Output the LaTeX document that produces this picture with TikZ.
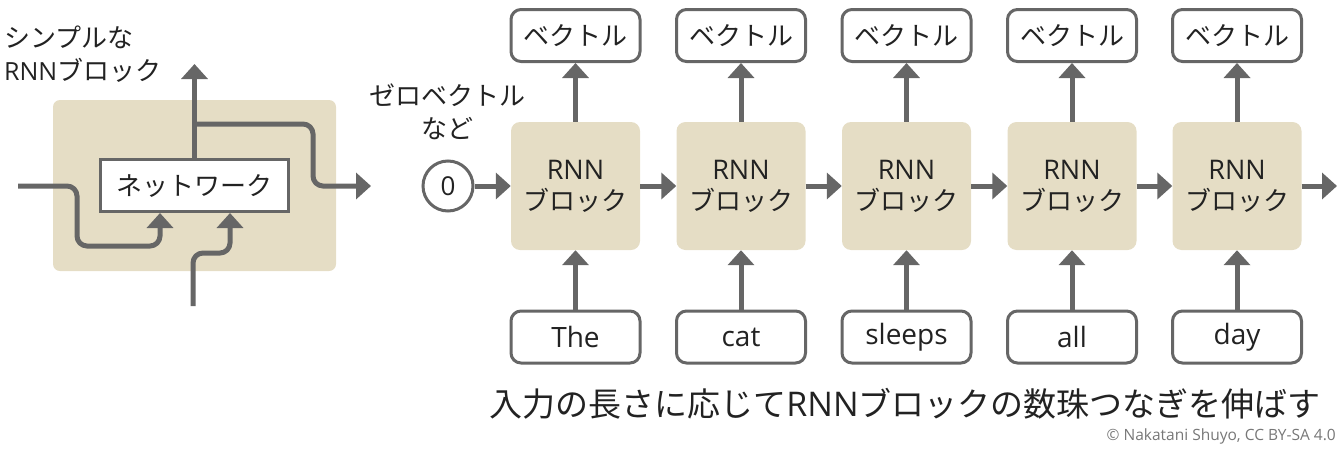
\documentclass[tikz,border=0pt]{standalone}
\usepackage{fontspec}
\setmainfont{Noto Sans CJK JP}
\newfontfamily\lat{Open Sans}
\usetikzlibrary{arrows.meta}
\definecolor{ln}{HTML}{666666}
\definecolor{bg}{HTML}{E5DDC5}
\definecolor{tx}{HTML}{222222}
\definecolor{cp}{HTML}{777777}
\newcommand{\lt}[2]{{\lat\fontsize{#1}{#1}\selectfont #2}}
\tikzset{
  conn/.style={draw=ln, line width=5pt, -{Triangle[width=26pt,length=15pt]}},
  wbox/.style={draw=ln, line width=3pt, fill=white, rounded corners=10pt, minimum width=129pt, minimum height=52pt, inner sep=0pt, font=\fontsize{26}{31}\selectfont, text=tx},
  rnn/.style={fill=bg, rounded corners=9pt, minimum width=129pt, minimum height=128pt, inner sep=0pt, align=center, font=\fontsize{26}{31}\selectfont, text=tx},
  lbl/.style={text=tx, inner sep=0pt, font=\fontsize{26}{33}\selectfont}
}
\begin{document}
\begin{tikzpicture}[x=1pt,y=-1pt]
\useasboundingbox (0,0) rectangle (1343,450);
% ---------- left: simple RNN block ----------
\node[fill=bg, rounded corners=7pt, minimum width=283pt, minimum height=171pt, inner sep=0pt] (simple) at (194.5,185.5) {};
\node[draw=ln, line width=3pt, fill=white, minimum width=188pt, minimum height=52pt, inner sep=0pt, font=\fontsize{26}{31}\selectfont, text=tx] (net) at (194.5,185.5) {ネットワーク};
\node[lbl, align=left, anchor=west] (lab) at (4,54) {シンプルな\\\lt{25}{RNN}ブロック};
\coordinate (in1) at (18,186);
\coordinate (in2) at (193,306);
\coordinate (out1) at (194.5,64);
\coordinate (br) at (194.5,124);
\coordinate (out2) at (371,186);
\draw[conn, rounded corners=10pt] (in1) -- (77,186) -- (77,246) -- (160,246) -- (160,246 |- net.south);
\draw[conn, rounded corners=10pt] (in2) -- (193,253) -- (230,253) -- (230,253 |- net.south);
\draw[conn] (net.north) -- (out1);
\draw[conn, rounded corners=10pt] (br) -- (313,124) -- (313,186) -- (out2);
% ---------- right: unrolled chain ----------
\node[lbl, align=center] (zl) at (447,112) {ゼロベクトル\\など};
\node[draw=ln, line width=3pt, circle, minimum size=50pt, inner sep=0pt, fill=white, text=tx] (zero) at (448,186) {\lt{26}{0}};
\foreach \i/\x/\w in {1/575.5/The, 2/741/cat, 3/906.5/sleeps, 4/1072/all, 5/1237/day} {
  \node[rnn] (b\i) at (\x,186) {\lt{27}{RNN}\\ブロック};
  \node[wbox] (v\i) at (\x,35.5) {ベクトル};
  \node[wbox] (w\i) at (\x,337) {\lt{28}{\w}};
  \draw[conn] (b\i) -- (v\i);
  \draw[conn] (w\i) -- (b\i);
}
\coordinate (end) at (1337,186);
\draw[conn] (zero) -- (b1);
\draw[conn] (b1) -- (b2);
\draw[conn] (b2) -- (b3);
\draw[conn] (b3) -- (b4);
\draw[conn] (b4) -- (b5);
\draw[conn] (b5) -- (end);
\node[text=tx, inner sep=0pt, font=\fontsize{33}{40}\selectfont] (cap) at (905,404) {入力の長さに応じて\lt{34}{RNN}ブロックの数珠つなぎを伸ばす};
\node[text=cp, inner sep=0pt, anchor=east, font=\lat\fontsize{15.5}{17}\selectfont] (copy) at (1336,436) {© Nakatani Shuyo, CC BY-SA 4.0};
\end{tikzpicture}
\end{document}
